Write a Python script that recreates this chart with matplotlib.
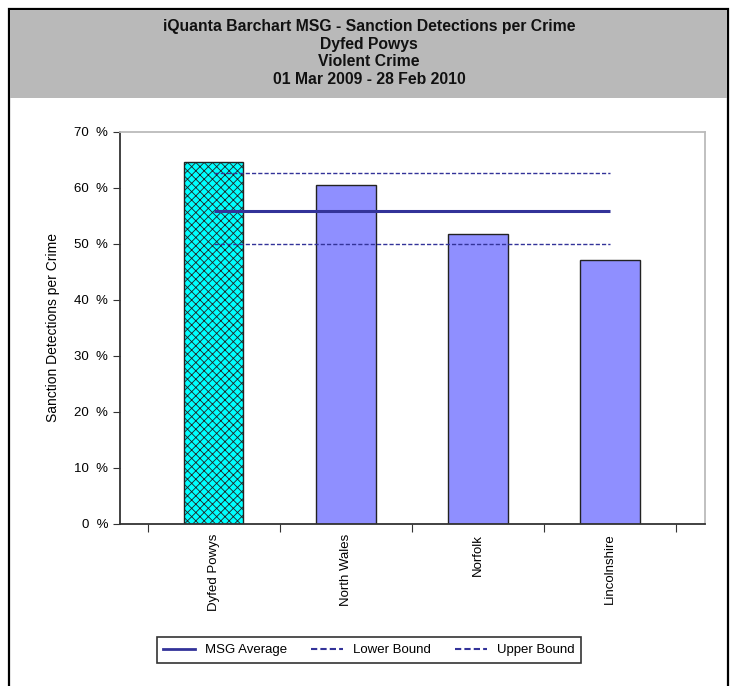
import numpy as np
import matplotlib
matplotlib.use('Agg')
import matplotlib.pyplot as plt
from matplotlib.lines import Line2D
from matplotlib.patches import Rectangle

plt.rcParams['font.family'] = ['Liberation Sans', 'DejaVu Sans']
plt.rcParams['hatch.linewidth'] = 0.6

# data
forces = ['Dyfed Powys', 'North Wales', 'Norfolk', 'Lincolnshire']
values = [64.6, 60.5, 51.8, 47.1]
msg_average = 55.9
lower_bound = 50.0
upper_bound = 62.7
title_lines = ['iQuanta Barchart MSG - Sanction Detections per Crime',
               'Dyfed Powys', 'Violent Crime', '01 Mar 2009 - 28 Feb 2010']

W, H = 731, 686
fig = plt.figure(figsize=(W / 100, H / 100), dpi=100)

# outer frame + grey header
fig.patches.append(Rectangle((9 / W, -0.05), 719 / W, 1.05 - 9 / H, transform=fig.transFigure,
                             facecolor='white', edgecolor='black', lw=1.6, zorder=0))
fig.patches.append(Rectangle((10 / W, 1 - 98 / H), 717 / W, 88 / H, transform=fig.transFigure,
                             facecolor='#b9b9b9', edgecolor='none', zorder=1))
for i, t in enumerate(title_lines):
    fig.text(369 / W, 1 - (26 + 18 * i) / H, t, ha='center', va='center',
             fontsize=11.3, fontweight='bold', color='#111111', zorder=2)

ax = fig.add_axes([120 / W, 1 - 524 / H, 585 / W, 392 / H])
ax.set_zorder(5)
ax.patch.set_alpha(0)
x = np.arange(len(forces))
colors = ['#00ffff'] + ['#8f8fff'] * (len(forces) - 1)
bars = ax.bar(x, values, width=0.45, color=colors, edgecolor='#222222', lw=1, zorder=2)
bars[0].set_hatch('xxxx')

line_col = '#333399'
ax.hlines(msg_average, x[0], x[-1], colors=line_col, lw=2.2, zorder=3)
ax.hlines([lower_bound, upper_bound], x[0], x[-1], colors=line_col, lw=1,
          linestyles=(0, (3, 1.5)), zorder=3)

ax.set_xlim(-0.71, 3.72)
ax.set_ylim(0, 70)
ax.set_yticks(np.arange(0, 71, 10))
ax.set_yticklabels(['%d  %%' % v for v in range(0, 71, 10)], fontsize=9.5)
ax.set_xticks(np.arange(-0.5, len(forces), 1))
ax.set_xticklabels([])
ax.set_xticks(x, minor=True)
ax.set_xticklabels(forces, minor=True, rotation=90, fontsize=9.5, va='top', ha='center')
ax.tick_params(axis='x', which='minor', length=0, pad=7)
ax.tick_params(axis='x', which='major', length=6, color='#333333')
ax.tick_params(axis='y', length=5, color='#333333')
ax.set_ylabel('Sanction Detections per Crime', fontsize=10, labelpad=10)
for s in ['left', 'bottom']:
    ax.spines[s].set_color('#333333')
    ax.spines[s].set_linewidth(1.3)
for s in ['top', 'right']:
    ax.spines[s].set_color('#bbbbbb')
    ax.spines[s].set_linewidth(1.3)

handles = [Line2D([], [], color=line_col, lw=2),
           Line2D([], [], color=line_col, lw=1.5, ls=(0, (3, 1.5))),
           Line2D([], [], color=line_col, lw=1.5, ls=(0, (3, 1.5)))]
leg = fig.legend(handles, ['MSG Average', 'Lower Bound', 'Upper Bound'], ncol=3,
                 loc='center', bbox_to_anchor=(369 / W, 1 - 650 / H), fontsize=9.5,
                 frameon=True, fancybox=False, edgecolor='black', handlelength=2.4,
                 columnspacing=1.8, borderpad=0.5)
leg.get_frame().set_linewidth(1.2)
leg.set_zorder(6)

fig.savefig('out.png', dpi=100)
